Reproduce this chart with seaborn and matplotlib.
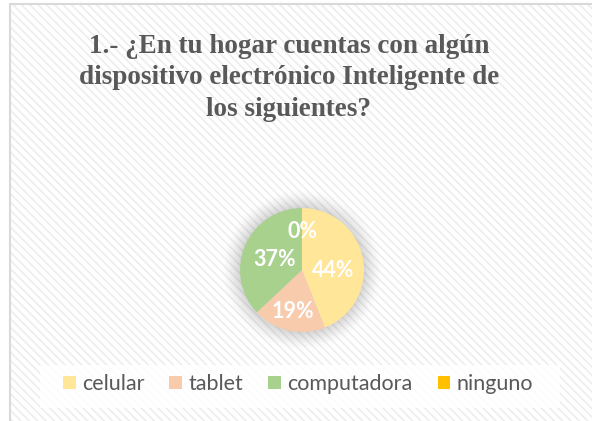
import matplotlib
matplotlib.use("Agg")
import matplotlib.pyplot as plt
import seaborn as sns
from matplotlib.patches import Rectangle, Circle
import numpy as np

categories = ["celular", "tablet", "computadora", "ninguno"]
values = [44, 19, 37, 0]
colors = ["#FFE699", "#F8CBAD", "#A9D18E", "#FFC000"]
title = "1.- ¿En tu hogar cuentas con algún\ndispositivo electrónico Inteligente de\nlos siguientes?"

sns.set_theme(style="white")
plt.rcParams['font.family'] = ['Lato', 'DejaVu Sans']
plt.rcParams['hatch.linewidth'] = 1.2

W, H = 592, 421
fig = plt.figure(figsize=(W / 100, H / 100), dpi=100)
fig.patch.set_facecolor("white")

# hatched background
bg = Rectangle((10 / W, -0.1), 1.2, 1.1 - 4 / H, transform=fig.transFigure,
               facecolor="white", edgecolor="#EDEDED", hatch="\\\\\\\\", lw=0, zorder=0)
fig.patches.append(bg)
border = Rectangle((10 / W, -0.1), 1.2, 1.1 - 4 / H, transform=fig.transFigure,
                   facecolor="none", edgecolor="#D9D9D9", lw=1.5, zorder=1)
fig.patches.append(border)

fig.text(289 / W, 1 - 78 / H, title, ha="center", va="center",
         fontsize=19.5, fontweight="bold", color="#595959",
         family=["Liberation Serif"], linespacing=1.33)

cx, cy, r = 302, 270, 62
ax = fig.add_axes([(cx - 1.3 * r) / W, (H - cy - 1.3 * r) / H, 2.6 * r / W, 2.6 * r / H])
ax.set_zorder(5)
ax.set_aspect("equal")
ax.axis("off")

# soft shadow
for k, a in zip(np.linspace(1.28, 1.02, 9), np.linspace(0.015, 0.06, 9)):
    ax.add_patch(Circle((0, 0), k, color="#808080", alpha=a, lw=0, zorder=0))

wedges, texts, autotexts = ax.pie(
    values, colors=colors, startangle=90, counterclock=False,
    autopct="%1.0f%%", pctdistance=0.58, radius=1,
    wedgeprops=dict(linewidth=0),
    textprops=dict(color="white", fontsize=15.5, fontweight="bold"))
for w in wedges:
    w.set_zorder(2)

# label placement (distance from centre, angular shift) per slice
label_dist = [0.5, 0.68, 0.47, 0.62]
label_shift = [-12, 0, 3, 0]
for w, t, d, s in zip(wedges, autotexts, label_dist, label_shift):
    ang = np.deg2rad((w.theta1 + w.theta2) / 2 + s)
    t.set_position((d * np.cos(ang), d * np.sin(ang)))
    t.set_zorder(3)

ax.set_xlim(-1.3, 1.3)
ax.set_ylim(-1.3, 1.3)

# legend background box
fig.patches.append(Rectangle((40 / W, 1 - 408 / H), 520 / W, 43 / H,
                             transform=fig.transFigure, facecolor="white",
                             edgecolor="none", alpha=0.85, zorder=1))
leg = fig.legend(wedges, categories, loc="center", bbox_to_anchor=(298 / W, 1 - 384 / H),
                 ncol=4, frameon=False, fontsize=15.5, handlelength=0.6, handleheight=0.6,
                 handletextpad=0.3, columnspacing=1.15, labelcolor="#595959")
leg.set_zorder(6)
fig.savefig("out.png", dpi=100)
